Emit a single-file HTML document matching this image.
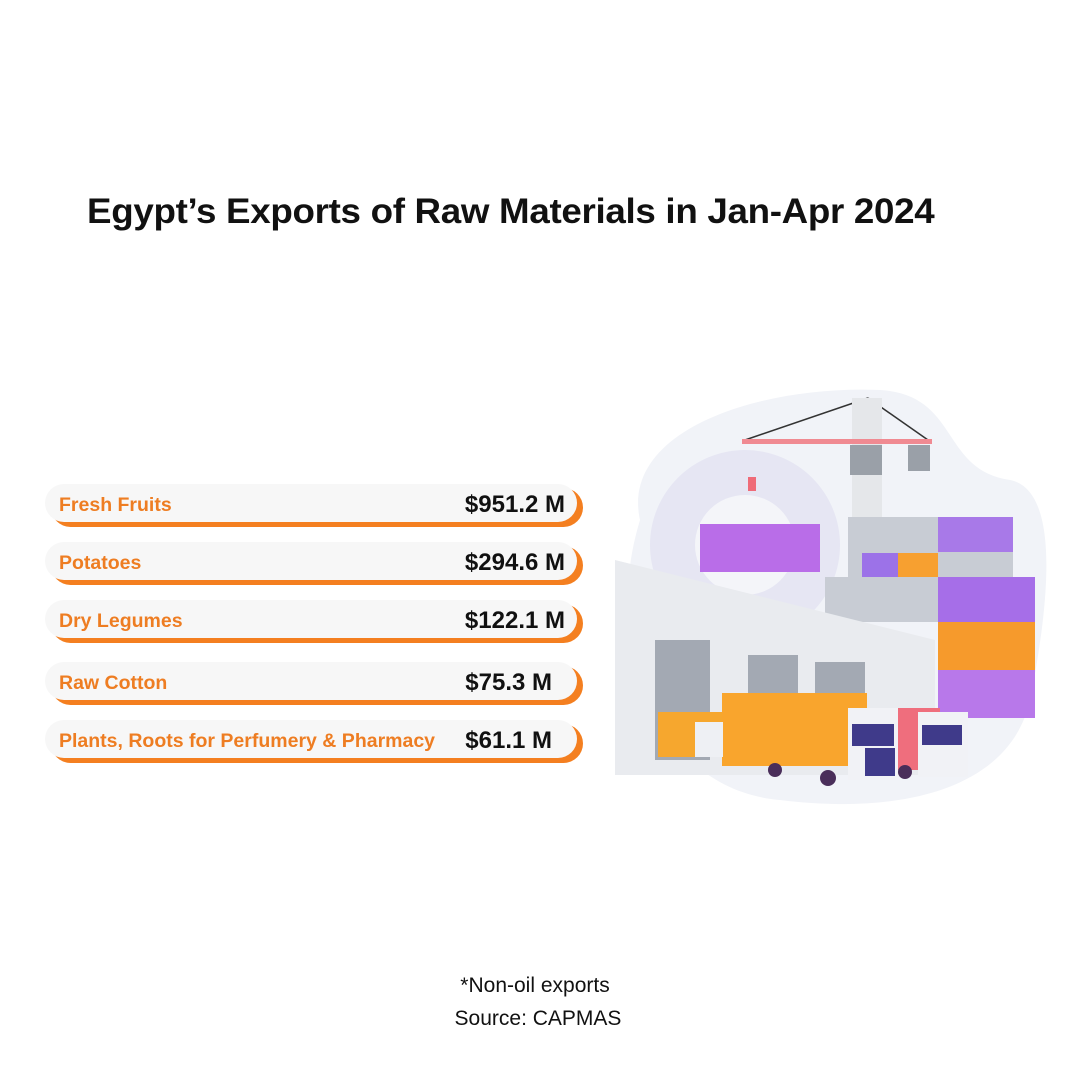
<!DOCTYPE html>
<html><head><meta charset="utf-8"><style>
body{margin:0;width:1080px;height:1080px;background:#fff;position:relative;font-family:"Liberation Sans",sans-serif;overflow:hidden}
h1{position:absolute;left:87px;top:192px;margin:0;font-size:35px;font-weight:bold;color:#111;letter-spacing:-0.3px;transform:scaleX(1.05);transform-origin:left;white-space:nowrap}
.row{position:absolute;left:45px;width:538px;height:38px}
.row .sh{position:absolute;left:6px;right:0;top:4px;bottom:-5px;background:#f47f20;border-radius:20px}
.row .bg{position:absolute;left:0;right:6px;top:0;bottom:0;background:#f7f7f7;border-radius:19px}
.row .l{position:absolute;left:14px;top:10px;font-size:19.5px;font-weight:bold;color:#ee7d22;white-space:nowrap}
.row .v{position:absolute;right:18px;top:7px;font-size:24px;font-weight:bold;color:#111;white-space:nowrap}
.foot{position:absolute;width:100%;text-align:center;font-size:21px;color:#111}
</style></head><body>
<h1>Egypt’s Exports of Raw Materials in Jan-Apr 2024</h1>
<div class="row" style="top:484px"><div class="sh"></div><div class="bg"></div><div class="l">Fresh Fruits</div><div class="v">$951.2 M</div></div>
<div class="row" style="top:542px"><div class="sh"></div><div class="bg"></div><div class="l">Potatoes</div><div class="v">$294.6 M</div></div>
<div class="row" style="top:600px"><div class="sh"></div><div class="bg"></div><div class="l">Dry Legumes</div><div class="v">$122.1 M</div></div>
<div class="row" style="top:662px"><div class="sh"></div><div class="bg"></div><div class="l">Raw Cotton</div><div class="v" style="right:31px">$75.3 M</div></div>
<div class="row" style="top:720px"><div class="sh"></div><div class="bg"></div><div class="l">Plants, Roots for Perfumery &amp; Pharmacy</div><div class="v" style="right:31px">$61.1 M</div></div>
<svg style="position:absolute;left:0;top:0" width="1080" height="1080">
<path d="M640 520 C620 430 760 385 880 390 C960 395 940 470 1010 480 C1060 490 1050 600 1030 700 C1010 790 900 815 780 800 C660 790 600 650 640 520Z" fill="#f1f3f8"/>
<circle cx="745" cy="545" r="95" fill="#e6e6f3"/>
<circle cx="745" cy="545" r="50" fill="#f4f5f9"/>
<line x1="745" y1="440" x2="868" y2="398" stroke="#333" stroke-width="1.5"/>
<line x1="868" y1="398" x2="928" y2="440" stroke="#333" stroke-width="1.5"/>
<rect x="852" y="398" width="30" height="120" fill="#e5e7ea"/>
<rect x="742" y="439" width="190" height="5" fill="#f08a92"/>
<rect x="850" y="445" width="32" height="30" fill="#9aa0a8"/>
<rect x="908" y="445" width="22" height="26" fill="#9aa0a8"/>
<rect x="748" y="477" width="8" height="14" fill="#ef6b78"/>
<rect x="700" y="524" width="120" height="48" fill="#b96de8"/>
<rect x="848" y="517" width="165" height="60" fill="#c8ccd4"/>
<rect x="938" y="517" width="75" height="35" fill="#a879e8"/>
<rect x="898" y="553" width="40" height="24" fill="#f7a030"/>
<rect x="862" y="553" width="36" height="24" fill="#9c72e8"/>
<rect x="825" y="577" width="210" height="45" fill="#c8ccd4"/>
<rect x="938" y="577" width="97" height="45" fill="#a66ee8"/>
<rect x="938" y="622" width="97" height="48" fill="#f69a2c"/>
<rect x="938" y="670" width="97" height="48" fill="#b878ea"/>
<path d="M615 560 L935 640 L935 775 L615 775Z" fill="#e9ebef"/>
<rect x="655" y="640" width="55" height="120" fill="#a3a9b3"/>
<rect x="748" y="655" width="50" height="100" fill="#a3a9b3"/>
<rect x="815" y="662" width="50" height="90" fill="#a3a9b3"/>
<rect x="658" y="712" width="65" height="45" fill="#f6a72e"/>
<rect x="722" y="693" width="145" height="73" fill="#f9a52d"/>
<rect x="865" y="708" width="75" height="62" fill="#ef6e7d"/>
<rect x="918" y="712" width="50" height="65" fill="#f1f2f6"/>
<rect x="922" y="725" width="40" height="20" fill="#3f3a8a"/>
<rect x="848" y="708" width="50" height="72" fill="#f1f2f6"/>
<rect x="852" y="724" width="42" height="22" fill="#3f3a8a"/>
<rect x="865" y="748" width="30" height="28" fill="#3f3a8a"/>
<rect x="695" y="722" width="28" height="35" fill="#eef0f4"/>
<circle cx="775" cy="770" r="7" fill="#4a2e5a"/><circle cx="828" cy="778" r="8" fill="#4a2e5a"/><circle cx="905" cy="772" r="7" fill="#4a2e5a"/>
</svg>
<div class="foot" style="top:974px;left:-5px">*Non-oil exports</div>
<div class="foot" style="top:1007px;left:-2px">Source: CAPMAS</div>
</body></html>
